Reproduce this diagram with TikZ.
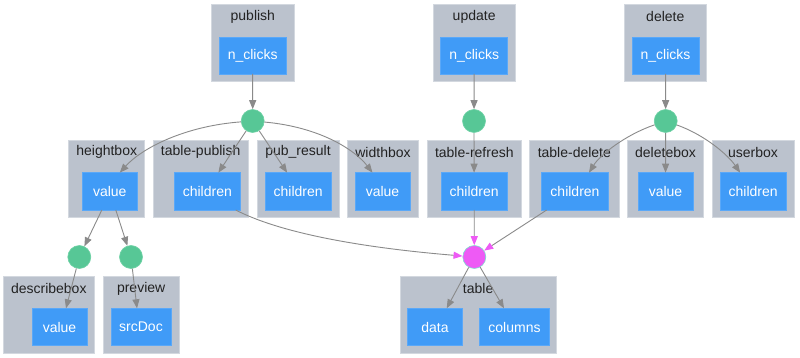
\documentclass[tikz,border=0pt]{standalone}
\usepackage{fontspec}
\setmainfont{Liberation Sans}
\usetikzlibrary{arrows.meta}
\definecolor{clfill}{HTML}{BBC2CD}
\definecolor{clline}{HTML}{D3D8DF}
\definecolor{bfill}{HTML}{409BF7}
\definecolor{bline}{HTML}{5AA8F8}
\definecolor{gfill}{HTML}{57C796}
\definecolor{gline}{HTML}{6FD2A6}
\definecolor{mfill}{HTML}{EE5AF5}
\definecolor{mline}{HTML}{7FE0D0}
\definecolor{edgec}{HTML}{8A8A8A}
\definecolor{titletext}{HTML}{222222}
\tikzset{
 clus/.style={draw=clline, fill=clfill, line width=0.8pt, inner sep=0, outer sep=0},
 cltitle/.style={text=titletext, font=\fontsize{14}{16}\selectfont, inner sep=0},
 bbox/.style={draw=bline, fill=bfill, line width=0.8pt, inner sep=0, outer sep=0, text=white, font=\fontsize{14}{16}\selectfont},
 gdot/.style={circle, fill=gfill, draw=gline, line width=0.6pt, minimum size=23pt, inner sep=0},
 mdot/.style={circle, fill=mfill, draw=mline, line width=0.6pt, minimum size=23pt, inner sep=0},
 edge/.style={draw=edgec, line width=0.9pt, -{Triangle[length=9pt,width=7pt]}},
 medge/.style={draw=edgec, line width=0.9pt, -{Triangle[length=9pt,width=7pt,color=mfill]}},
}
\newcommand{\mkclus}[6]{%
 \node[clus, minimum width={(#4-#2)*1pt}, minimum height={(#5-#3)*1pt}] (#1) at ({(#2+#4)/2},{(#3+#5)/2}) {};
 \node[cltitle] (#1t) at ({(#2+#4)/2},{#3+12}) {#6};}
\newcommand{\mkbox}[6]{%
 \node[bbox, minimum width={(#4-#2)*1pt}, minimum height={(#5-#3)*1pt}] (#1) at ({(#2+#4)/2},{(#3+#5)/2}) {#6};}
\begin{document}
\begin{tikzpicture}[x=1pt,y=-1pt]
\fill[white] (0,0) rectangle (800,358);
\useasboundingbox (0,0) rectangle (800,358);
% clusters
\mkclus{pub}{211.7}{4.7}{294}{81.3}{publish}
\mkclus{upd}{433}{4.7}{515.3}{81.3}{update}
\mkclus{del}{624.3}{4.7}{706.3}{81.3}{delete}
\mkclus{hb}{68.7}{140.3}{144.7}{217.3}{heightbox}
\mkclus{tp}{153}{140.3}{248.3}{217.3}{table-publish}
\mkclus{pr}{257}{140.3}{339}{217.3}{pub\_result}
\mkclus{wb}{347.7}{140.3}{418.3}{217.3}{widthbox}
\mkclus{tr}{427.3}{140.3}{521.3}{217.3}{table-refresh}
\mkclus{td}{529.7}{140.3}{619}{217.3}{table-delete}
\mkclus{dbx}{627.3}{140.3}{703.7}{217.3}{deletebox}
\mkclus{ub}{712}{140.3}{794}{217.3}{userbox}
\mkclus{ds}{3.3}{276.7}{94.3}{353}{describebox}
\mkclus{pv}{103}{276.7}{179.3}{353}{preview}
\mkclus{tb}{400}{276.7}{556.3}{353}{table}
% boxes
\mkbox{pubV}{219}{37}{286.3}{74}{n\_clicks}
\mkbox{updV}{440.7}{37}{507.7}{74}{n\_clicks}
\mkbox{delV}{632}{37}{699}{74}{n\_clicks}
\mkbox{hbV}{82.3}{172.7}{137.3}{210}{value}
\mkbox{tpV}{174}{172.7}{240.7}{210}{children}
\mkbox{prV}{265}{172.7}{331.3}{210}{children}
\mkbox{wbV}{355}{172.7}{410}{210}{value}
\mkbox{trV}{441}{172.7}{507.3}{210}{children}
\mkbox{tdV}{541.7}{172.7}{608.3}{210}{children}
\mkbox{dbxV}{638}{172.7}{693}{210}{value}
\mkbox{ubV}{720}{172.7}{786.3}{210}{children}
\mkbox{dsV}{32}{308.3}{87}{345.7}{value}
\mkbox{pvV}{111}{308.3}{171}{345.7}{srcDoc}
\mkbox{tbD}{407.3}{308.3}{462.7}{345.7}{data}
\mkbox{tbC}{479.7}{308.3}{549.3}{345.7}{columns}
% dots
\node[gdot] (pubG) at (252.7,121) {};
\node[gdot] (updG) at (474,121) {};
\node[gdot] (delG) at (665.7,121) {};
\node[gdot] (hbG1) at (79.3,257) {};
\node[gdot] (hbG2) at (131,257) {};
\node[mdot] (mG) at (474.3,257) {};
% edges
\draw[edge] (pubV) -- (pubG);
\draw[edge] (updV) -- (updG);
\draw[edge] (delV) -- (delG);
\draw[edge] (pubG) .. controls (185,126) and (142,148) .. ([xshift=10pt]hbV.north);
\draw[edge] (pubG) -- ([xshift=11pt]tpV.north);
\draw[edge] (pubG) -- ([xshift=-11pt]prV.north);
\draw[edge] (pubG) .. controls (320,127) and (355,150) .. ([xshift=-10pt]wbV.north);
\draw[edge] (updG) -- (trV);
\draw[edge] (delG) .. controls (625,135) and (600,155) .. ([xshift=14pt]tdV.north);
\draw[edge] (delG) -- (dbxV);
\draw[edge] (delG) .. controls (705,135) and (728,155) .. ([xshift=-13pt]ubV.north);
\draw[edge] ([xshift=-8pt]hbV.south) -- (hbG1);
\draw[edge] ([xshift=6pt]hbV.south) -- (hbG2);
\draw[edge] (hbG1) -- ([xshift=6.5pt]dsV.north);
\draw[edge] (hbG2) -- ([xshift=-4pt]pvV.north);
\draw[medge] ([xshift=-5pt]tpV.south east) .. controls (290,238) and (390,250) .. (mG);
\draw[medge] (trV) -- (mG);
\draw[medge] ([xshift=5pt]tdV.south west) -- (mG);
\draw[edge] (mG) -- ([xshift=11.7pt]tbD.north);
\draw[edge] (mG) -- ([xshift=-10.5pt]tbC.north);
\end{tikzpicture}
\end{document}
